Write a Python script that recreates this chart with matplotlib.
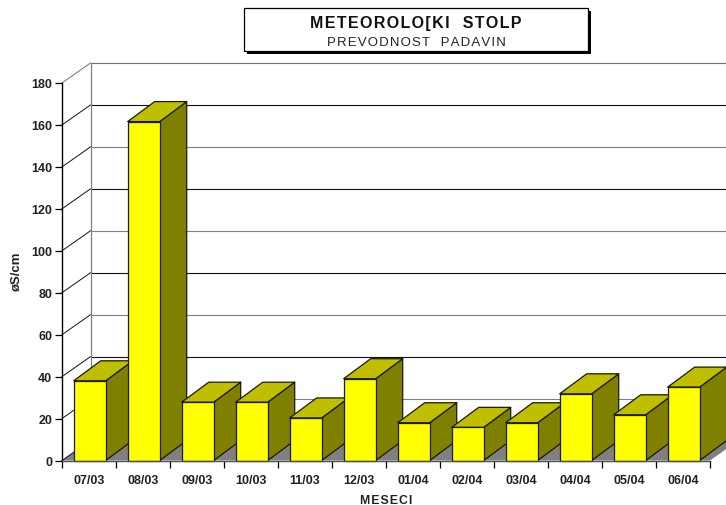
import matplotlib
matplotlib.use("Agg")
import matplotlib.pyplot as plt
from matplotlib.patches import Polygon, Rectangle

plt.rcParams['font.family'] = ['Liberation Sans', 'DejaVu Sans']

months = ['07/03', '08/03', '09/03', '10/03', '11/03', '12/03',
          '01/04', '02/04', '03/04', '04/04', '05/04', '06/04']
values = [38.0, 161.6, 27.8, 27.8, 20.3, 39.0, 18.0, 15.8, 18.0, 31.8, 21.8, 35.0]
y_ticks = list(range(0, 181, 20))


def spaced(s):
    # the original text is set wide, hair spaces get close to that
    return '\u200a'.join(s)


W, H = 726, 506
fig = plt.figure(figsize=(W / 100, H / 100), dpi=100)
ax = fig.add_axes([62 / W, (H - 461.5) / H, 648 / W, 377.5 / H])
ax.set_xlim(0, 12)
ax.set_ylim(0, 180)
ax.patch.set_visible(False)

# depth of the fake 3d, in data units
floor_dx = 28.5 / 54
floor_dy = 20 / (377.5 / 180)
bar_dx = 27 / 54
bar_off = 11.7 / 54
bar_w = 32 / 54

# floor and walls
ax.add_patch(Polygon([(0, 0), (12, 0), (12 + floor_dx, floor_dy), (floor_dx, floor_dy)],
                     fc='#808080', ec='none', clip_on=False, zorder=1))
for i, v in enumerate(y_ticks):
    c = '#808080' if i % 2 == 1 and v != 0 else '#111111'
    if v == 180:
        c = '#707070'
    ax.plot([floor_dx, 12 + floor_dx], [v + floor_dy, v + floor_dy], color=c,
            lw=0.8, clip_on=False, zorder=2, solid_capstyle='butt')
    ax.plot([0, floor_dx], [v, v + floor_dy], color='#707070' if v == 180 else '#111111',
            lw=0.7, clip_on=False, zorder=2)
ax.plot([floor_dx, floor_dx], [floor_dy, 180 + floor_dy], color='#808080', lw=0.9,
        clip_on=False, zorder=2)

# bars, left to right so the next one covers the side of the last
for i, v in enumerate(values):
    x0 = i + bar_off
    x1 = x0 + bar_w
    z = 3 + i
    ax.add_patch(Polygon([(x1, 0), (x1 + bar_dx, floor_dy), (x1 + bar_dx, v + floor_dy), (x1, v)],
                         fc='#808000', ec='#1a1a00', lw=0.9, clip_on=False, zorder=z, joinstyle='round'))
    ax.add_patch(Polygon([(x0, v), (x1, v), (x1 + bar_dx, v + floor_dy), (x0 + bar_dx, v + floor_dy)],
                         fc='#BFBF00', ec='#1a1a00', lw=0.9, clip_on=False, zorder=z, joinstyle='round'))
    ax.add_patch(Rectangle((x0, 0), bar_w, v, fc='#FFFF00', ec='#1a1a00', lw=0.9,
                           clip_on=False, zorder=z))

# axes
for s in ['top', 'right']:
    ax.spines[s].set_visible(False)
ax.spines['left'].set_linewidth(1.0)
ax.spines['left'].set_zorder(20)
ax.spines['bottom'].set_color('#505050')
ax.spines['bottom'].set_linewidth(1.0)
ax.spines['bottom'].set_zorder(20)

ax.set_yticks(y_ticks)
ax.set_xticks(range(13))
ax.set_xticklabels([])
ax.set_xticks([i + 0.5 for i in range(12)], minor=True)
ax.set_xticklabels(months, minor=True)
ax.tick_params(axis='x', which='major', length=5, width=0.9, color='black')
ax.tick_params(axis='x', which='minor', length=0, pad=9.5, labelsize=9, labelcolor='#222222')
ax.tick_params(axis='y', length=5, width=0.9, pad=2, labelsize=9, labelcolor='#222222')
for t in ax.get_yticklabels() + ax.get_xticklabels(minor=True):
    t.set_fontweight('bold')

fig.text(386 / W, 1 - 501 / H, spaced('MESECI'), ha='center', va='center',
         fontsize=8.8, fontweight='bold', color='#222222')
fig.text(17 / W, 1 - 272.5 / H, 'øS/cm', rotation=90, ha='center', va='center',
         fontsize=9.5, fontweight='bold', color='#222222')

# title box with shadow
fig.add_artist(Rectangle((247 / W, 1 - 55 / H), 344 / W, 43 / H, fc='black', ec='none',
                         transform=fig.transFigure))
fig.add_artist(Rectangle((244 / W, 1 - 52 / H), 344 / W, 43 / H, fc='white', ec='black', lw=0.9,
                         transform=fig.transFigure))
fig.text(416 / W, 1 - 24 / H, spaced('METEOROLO[KI  STOLP'), ha='center', va='center',
         fontsize=11.5, fontweight='bold', color='#111111')
fig.text(416 / W, 1 - 43.5 / H, spaced('PREVODNOST  PADAVIN'), ha='center', va='center',
         fontsize=9.5, color='#222222')

fig.savefig('out.png', dpi=100)
